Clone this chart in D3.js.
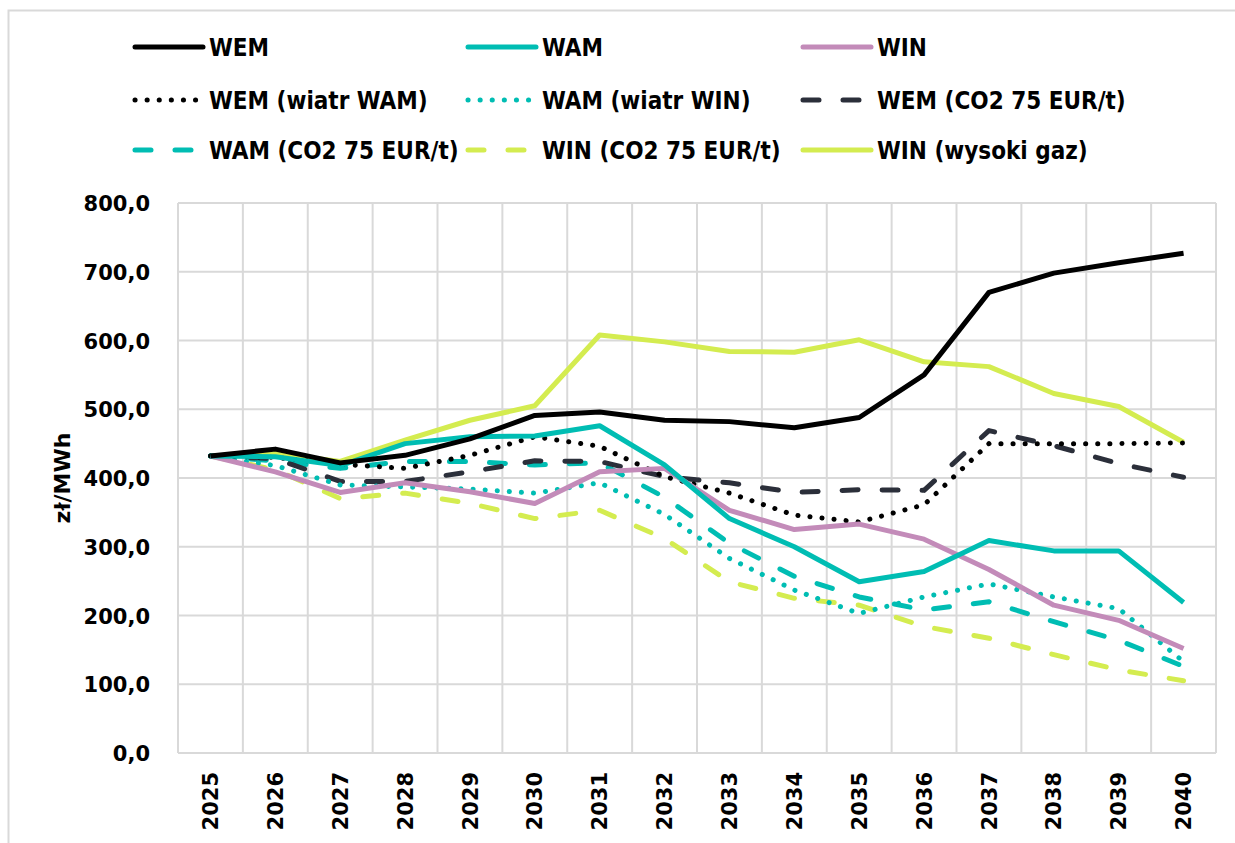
<!DOCTYPE html>
<html>
<head>
<meta charset="utf-8">
<script src="https://cdn.jsdelivr.net/npm/d3@7"></script>
<style>
  body { margin: 0; background: #fff; }
  svg text { font-family: "DejaVu Sans", Verdana, sans-serif; font-weight: bold; fill: #000; }
  .legend text { font-family: "DejaVu Sans Condensed", "DejaVu Sans", sans-serif; }
</style>
</head>
<body>
<div id="chart"></div>
<script>
var width = 1235;
var height = 843;

// years on the x axis
var years = ["2025", "2026", "2027", "2028", "2029", "2030", "2031", "2032",
             "2033", "2034", "2035", "2036", "2037", "2038", "2039", "2040"];

// y axis ticks
var yTicks = [0, 100, 200, 300, 400, 500, 600, 700, 800];

// series values (zł/MWh)
var wem          = [432, 442, 422, 433, 457, 491, 496, 484, 482, 473, 488, 550, 670, 698, 713, 727];
var wam          = [432, 431, 418, 450, 460, 461, 476, 419, 341, 300, 249, 264, 309, 294, 294, 219];
var win          = [432, 409, 379, 393, 380, 363, 409, 414, 353, 325, 333, 311, 267, 215, 193, 152];
var wemWiatrWam  = [432, 430, 420, 414, 433, 460, 446, 402, 378, 346, 336, 361, 450, 450, 450, 451];
var wamWiatrWin  = [432, 418, 390, 387, 384, 378, 393, 347, 283, 237, 203, 227, 246, 227, 210, 133];
var wemCo2       = [432, 428, 395, 395, 409, 425, 424, 402, 393, 379, 383, 382, 469, 447, 421, 401];
var wamCo2       = [432, 425, 414, 424, 424, 419, 422, 372, 305, 257, 227, 208, 220, 191, 164, 126];
var winCo2       = [432, 412, 370, 378, 363, 341, 353, 312, 249, 225, 215, 184, 167, 143, 121, 105];
var winGaz       = [432, 436, 424, 455, 484, 505, 608, 598, 584, 583, 601, 569, 562, 523, 504, 452];

var seriesNames = ["WEM", "WAM", "WIN",
                   "WEM (wiatr WAM)", "WAM (wiatr WIN)", "WEM (CO2 75 EUR/t)",
                   "WAM (CO2 75 EUR/t)", "WIN (CO2 75 EUR/t)", "WIN (wysoki gaz)"];
var seriesValues = [wem, wam, win, wemWiatrWam, wamWiatrWin, wemCo2, wamCo2, winCo2, winGaz];
var seriesColors = ["#000000", "#00BDB3", "#C38BB9",
                    "#000000", "#00BDB3", "#2B2F3A",
                    "#00BDB3", "#D4EC50", "#D4EC50"];
var seriesDash = ["solid", "solid", "solid",
                  "dot", "dot", "dash",
                  "dash", "dash", "solid"];

// draw order: bottom to top
var drawOrder = [8, 7, 6, 5, 4, 3, 2, 1, 0];

window.onload = start;

function dashArray(kind) {
	if (kind === "dot") return "0.1,12";
	if (kind === "dash") return "16,24";
	return null;
}

function start() {
	var svg = d3.select("#chart")
		.append("svg")
		.attr("width", width)
		.attr("height", height);

	// outer frame of the chart
	svg.append("path")
		.attr("d", "M8.5," + height + " V10.5 H" + width)
		.attr("fill", "none")
		.attr("stroke", "#D9D9D9")
		.attr("stroke-width", 2);

	var plotLeft = 178, plotRight = 1216, plotTop = 203, plotBottom = 753;

	var xScale = d3.scaleBand().domain(years).range([plotLeft, plotRight]);
	var yScale = d3.scaleLinear().domain([0, 800]).range([plotBottom, plotTop]);

	// horizontal grid
	svg.append("g")
		.selectAll("line")
		.data(yTicks)
		.enter()
		.append("line")
		.attr("x1", plotLeft)
		.attr("x2", plotRight)
		.attr("y1", d => yScale(d))
		.attr("y2", d => yScale(d))
		.attr("stroke", "#D9D9D9")
		.attr("stroke-width", 2);

	// vertical grid at band edges
	var edges = years.map(d => xScale(d)).concat([plotRight]);
	svg.append("g")
		.selectAll("line")
		.data(edges)
		.enter()
		.append("line")
		.attr("x1", d => d)
		.attr("x2", d => d)
		.attr("y1", plotTop)
		.attr("y2", plotBottom)
		.attr("stroke", "#D9D9D9")
		.attr("stroke-width", 2);

	// y axis
	var yAxis = d3.axisLeft(yScale)
		.tickValues(yTicks)
		.tickSize(0)
		.tickPadding(28)
		.tickFormat(d => d3.format(".1f")(d).replace(".", ","));
	var gy = svg.append("g")
		.attr("transform", "translate(" + plotLeft + ",0)")
		.call(yAxis);
	gy.select(".domain").remove();
	gy.selectAll("text")
		.style("font-size", "21px")
		.attr("dy", "0.36em");

	// x axis
	var xAxis = d3.axisBottom(xScale).tickSize(0).tickPadding(0);
	var gx = svg.append("g")
		.attr("transform", "translate(0," + plotBottom + ")")
		.call(xAxis);
	gx.select(".domain").remove();
	gx.selectAll("text")
		.style("font-size", "21px")
		.attr("transform", "rotate(-90)")
		.attr("x", -19)
		.attr("y", 0)
		.attr("dy", "0.36em")
		.style("text-anchor", "end");

	// y axis title
	svg.append("text")
		.attr("transform", "translate(70," + ((plotTop + plotBottom) / 2) + ") rotate(-90)")
		.style("text-anchor", "middle")
		.style("font-size", "22px")
		.text("zł/MWh");

	// lines
	var line = d3.line()
		.x((d, i) => xScale(years[i]) + xScale.bandwidth() / 2)
		.y(d => yScale(d));

	svg.append("g")
		.selectAll("path")
		.data(drawOrder)
		.enter()
		.append("path")
		.attr("d", i => line(seriesValues[i]))
		.attr("fill", "none")
		.attr("stroke", i => seriesColors[i])
		.attr("stroke-width", 5)
		.attr("stroke-linejoin", "round")
		.attr("stroke-linecap", i => seriesDash[i] === "solid" ? "butt" : "round")
		.attr("stroke-dasharray", i => dashArray(seriesDash[i]));

	// legend
	var legendX = [133, 466, 801];
	var legendY = [47, 100, 150];
	var legend = svg.append("g").attr("class", "legend");
	var items = legend.selectAll("g")
		.data(seriesNames)
		.enter()
		.append("g")
		.attr("transform", (d, i) => "translate(" + legendX[i % 3] + "," + legendY[Math.floor(i / 3)] + ")");
	items.append("line")
		.attr("x1", 2)
		.attr("x2", 70)
		.attr("y1", 0)
		.attr("y2", 0)
		.attr("stroke", (d, i) => seriesColors[i])
		.attr("stroke-width", 5)
		.attr("stroke-linecap", "round")
		.attr("stroke-dasharray", (d, i) => dashArray(seriesDash[i]));
	items.append("text")
		.attr("x", 76)
		.attr("dy", "0.36em")
		.style("font-size", "24px")
		.text(d => d);
}
</script>
</body>
</html>
